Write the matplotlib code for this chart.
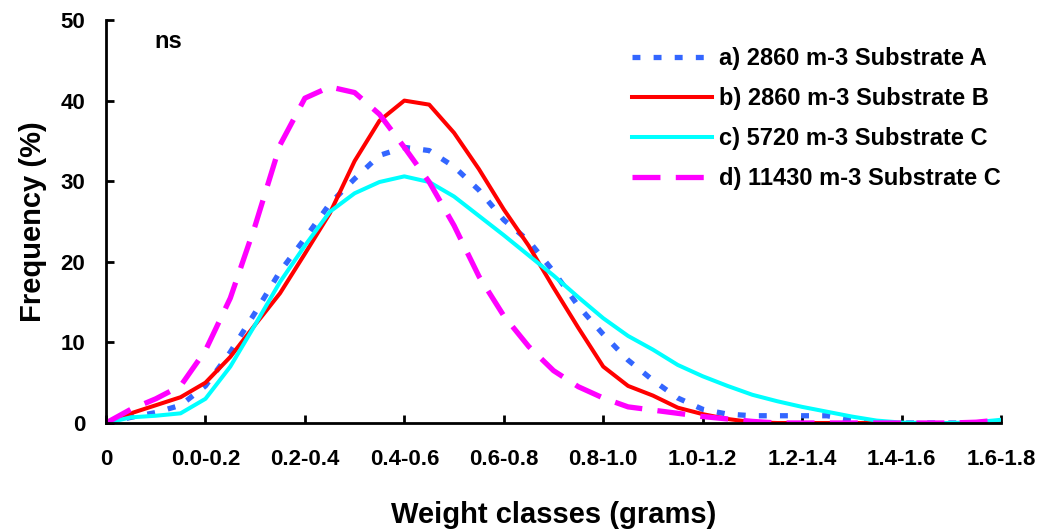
import numpy as np
import matplotlib
matplotlib.use("Agg")
import matplotlib.pyplot as plt

plt.rcParams['font.family'] = ['Liberation Sans', 'DejaVu Sans']
plt.rcParams['font.weight'] = 'bold'

# weight class labels on the category axis
class_labels = ["0", "0.0-0.2", "0.2-0.4", "0.4-0.6", "0.6-0.8", "0.8-1.0",
                "1.0-1.2", "1.2-1.4", "1.4-1.6", "1.6-1.8"]

# curves traced at quarter-class steps (position 0..9 on the class axis)
pos = [i / 4 for i in range(37)]

freq_a = [0, 0.7, 1.3, 2.2, 4.6, 8.8, 13.7, 18.8, 22.9, 27.2, 30.3, 33.2, 34.2,
          33.8, 31.8, 28.9, 25.2, 22.6, 18.8, 14.5, 11.0, 7.8, 5.3, 3.1, 1.7,
          1.1, 0.9, 0.9, 0.9, 0.9, 0.4, 0, 0, 0, 0, 0, 0]
freq_b = [0, 1.2, 2.2, 3.2, 5.0, 8.2, 12.2, 16.1, 21.0, 26.0, 32.5, 37.5, 40.0,
          39.5, 36.0, 31.5, 26.5, 22.0, 16.8, 11.8, 7.0, 4.6, 3.4, 1.9, 1.1,
          0.5, 0.1, 0, 0, 0, 0, 0, 0, 0, 0, 0, 0]
freq_c = [0, 0.7, 0.9, 1.2, 3.0, 7.0, 12.2, 17.5, 22.0, 26.2, 28.5, 29.9, 30.6,
          29.9, 28.1, 25.7, 23.3, 20.8, 18.3, 15.6, 13.0, 10.8, 9.1, 7.2, 5.8,
          4.6, 3.5, 2.7, 2.0, 1.4, 0.8, 0.3, 0.05, 0, 0, 0.1, 0.4]
freq_d = [0, 1.7, 3.0, 4.6, 9.0, 15.5, 24.5, 34.5, 40.3, 41.7, 41.0, 38.3, 34.2,
          29.9, 24.5, 18.2, 13.3, 9.5, 6.5, 4.5, 3.1, 2.0, 1.6, 1.2, 0.8,
          0.5, 0.2, 0, 0, 0, 0, 0, 0, 0, 0, 0.1, 0.4]

series_names = ["a) 2860 m-3 Substrate A", "b) 2860 m-3 Substrate B",
                "c) 5720 m-3 Substrate C", "d) 11430 m-3 Substrate C"]

fig = plt.figure(figsize=(10.42, 5.30), dpi=100)
ax = fig.add_axes([106 / 1042, 1 - 423 / 530, 895 / 1042, 403 / 530])

ax.plot(pos, freq_a, color="#3366FF", lw=3.8, dashes=(1.5, 2.5),
        dash_capstyle='butt', label=series_names[0])
ax.plot(pos, freq_b, color="#FF0000", lw=2.9, label=series_names[1])
ax.plot(pos, freq_c, color="#00FFFF", lw=2.9, label=series_names[2])
ax.plot(pos, freq_d, color="#FF00FF", lw=3.8, dashes=(5.3, 2.9),
        dash_capstyle='butt', label=series_names[3])

ax.set_xlim(0, 9)
ax.set_ylim(0, 50)
ax.set_xticks(range(10))
ax.set_xticklabels(class_labels)
ax.set_yticks(range(0, 51, 10))

for side in ("top", "right"):
    ax.spines[side].set_visible(False)
for side in ("left", "bottom"):
    ax.spines[side].set_linewidth(2)
ax.tick_params(axis='both', direction='in', length=6, width=2, labelsize=16)
ax.tick_params(axis='x', pad=19)
ax.tick_params(axis='y', pad=15)

ax.set_xlabel("Weight classes (grams)", fontsize=21, fontweight='bold', labelpad=22)
ax.set_ylabel("Frequency (%)", fontsize=21, fontweight='bold', labelpad=10)

ax.text(0.49, 47.3, "ns", fontsize=17, fontweight='bold', va='center')

ax.legend(loc='upper left', bbox_to_anchor=(632 / 1042, 1 - 47 / 530),
          bbox_transform=fig.transFigure, frameon=False, fontsize=17,
          handlelength=3.4, handletextpad=0.3, labelspacing=0.72,
          borderpad=0, borderaxespad=0)

fig.savefig("out.png", dpi=100)
